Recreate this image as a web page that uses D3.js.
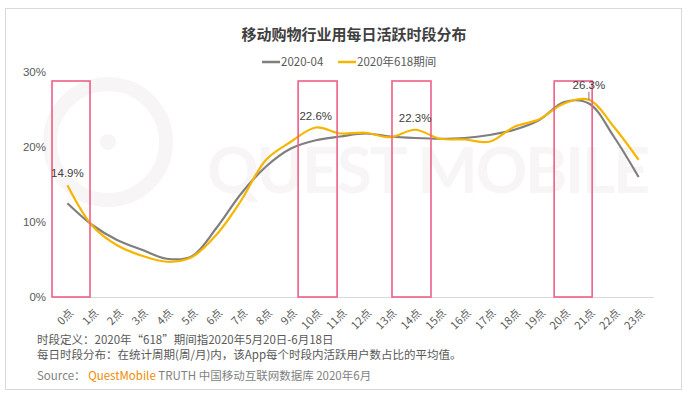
<!DOCTYPE html>
<html>
<head>
<meta charset="utf-8">
<script src="https://cdn.jsdelivr.net/npm/d3@7"></script>
<style>
  body { margin: 0; background: #fff; }
  svg text { font-family: "Noto Sans CJK SC", "Noto Sans", sans-serif; }
</style>
</head>
<body>
<div id="chart"></div>
<script>
// hours on the x axis
const hours = d3.range(24).map(h => h + "点");
const seriesNames = ["2020-04", "2020年618期间"];
// share of daily active users per hour (%)
const april = [12.5, 9.6, 7.6, 6.3, 5.1, 5.4, 9.2, 13.8, 17.4, 19.8, 20.9, 21.4,
  21.8, 21.4, 21.2, 21.1, 21.2, 21.6, 22.3, 23.6, 26.0, 25.8, 21.4, 16.0];
const promo618 = [14.9, 9.5, 6.9, 5.5, 4.7, 5.3, 8.3, 12.9, 18.3, 20.7, 22.6, 21.8,
  21.9, 21.3, 22.3, 21.1, 21.0, 20.7, 22.7, 23.7, 25.8, 26.3, 22.7, 18.3];
const yTicks = [0, 10, 20, 30];
// labelled points of the 618 series (hour index)
const labelled = [0, 10, 14, 21];
// highlight boxes, in hour units
const boxSpans = [[-0.62, 0.91], [9.29, 10.86], [13.07, 14.64], [19.6, 21.13]];

const W = 690, H = 399;
const svg = d3.select("#chart").append("svg")
  .attr("width", W).attr("height", H);

// frame
svg.append("rect")
  .attr("x", 5.5).attr("y", 8.5).attr("width", 676).attr("height", 381)
  .attr("fill", "#fff").attr("stroke", "#d9d9d9");

// faint watermark
const wm = svg.append("g").attr("fill", "none").attr("stroke", "#f7f5f6");
wm.append("circle").attr("cx", 108).attr("cy", 142).attr("r", 58).attr("stroke-width", 14);
wm.append("circle").attr("cx", 108).attr("cy", 142).attr("r", 8).attr("fill", "#f7f5f6").attr("stroke", "none");
svg.append("text")
  .attr("x", 207).attr("y", 193)
  .attr("textLength", 443)
  .style("font-family", "Lato, 'Open Sans', sans-serif")
  .style("font-size", "64px")
  .style("font-weight", "bold")
  .attr("fill", "#f8f5f7")
  .text("QUEST MOBILE");

const x = d3.scaleBand().domain(hours).range([55, 651]);
const xc = h => x(h) + x.bandwidth() / 2;
const xh = d3.scaleLinear().domain([0, 23]).range([xc(hours[0]), xc(hours[23])]);
const y = d3.scaleLinear().domain([0, 30]).range([297, 72]);

// title
svg.append("text")
  .attr("x", 354).attr("y", 40)
  .attr("text-anchor", "middle")
  .style("font-size", "15px").style("font-weight", "bold")
  .attr("fill", "#3f3f3f")
  .text("移动购物行业用每日活跃时段分布");

// legend
const colors = ["#7f7f7f", "#f7b500"];
const legendX = [262, 338];
seriesNames.forEach((name, i) => {
  const g = svg.append("g").attr("transform", `translate(${legendX[i]},62)`);
  g.append("line").attr("x1", 0).attr("x2", 18).attr("stroke", colors[i]).attr("stroke-width", 2.5);
  g.append("text").attr("x", 19).attr("dy", "0.35em")
    .style("font-size", "11.5px").attr("fill", "#595959").text(name);
});

// y axis
const yAxis = svg.append("g")
  .attr("transform", "translate(46,0)")
  .call(d3.axisLeft(y).tickValues(yTicks).tickSize(0).tickPadding(0).tickFormat(d => d + "%"));
yAxis.select(".domain").remove();
yAxis.selectAll("text").style("font-size", "11.5px").attr("fill", "#595959")
  .style("font-family", "'Liberation Sans', Arial, sans-serif");

// x axis
const xAxis = svg.append("g")
  .attr("transform", `translate(0,${y(0)})`)
  .call(d3.axisBottom(x).tickSize(0).tickPadding(0));
xAxis.select(".domain").attr("stroke", "#d9d9d9").attr("d", "M52,0.5H654");
xAxis.selectAll("text")
  .style("font-size", "11px").attr("fill", "#595959")
  .attr("text-anchor", "end")
  .attr("dy", "0.35em")
  .attr("transform", "translate(4,14) rotate(-45)");

// lines
const line = d3.line()
  .x((d, i) => xc(hours[i]))
  .y(d => y(d))
  .curve(d3.curveCatmullRom.alpha(0.5));
[april, promo618].forEach((s, i) => {
  svg.append("path").datum(s)
    .attr("fill", "none").attr("stroke", colors[i]).attr("stroke-width", 2.2)
    .attr("d", line);
});

// highlight boxes
svg.selectAll(".box").data(boxSpans).enter().append("rect")
  .attr("class", "box")
  .attr("x", d => xh(d[0])).attr("width", d => xh(d[1]) - xh(d[0]))
  .attr("y", y(30) + 9).attr("height", y(0) - y(30) - 9)
  .attr("fill", "none").attr("stroke", "#ee5f86").attr("stroke-width", 1.6);

// data labels
labelled.forEach(i => {
  const px = xc(hours[i]), py = y(promo618[i]);
  const lifted = i === 21;
  const ty = lifted ? py - 11 : py - 8;
  svg.append("text")
    .attr("x", px).attr("y", ty)
    .attr("text-anchor", "middle")
    .style("font-size", "11.5px")
    .style("font-family", "'Liberation Sans', Arial, sans-serif")
    .attr("fill", "#404040")
    .text(promo618[i].toFixed(1) + "%");
  if (lifted) {
    svg.append("line").attr("x1", px).attr("x2", px)
      .attr("y1", ty + 3).attr("y2", py)
      .attr("stroke", "#595959").attr("stroke-width", 0.8);
  }
});

// footnotes
const notes = [
  "时段定义：2020年“618”期间指2020年5月20日-6月18日",
  "每日时段分布：在统计周期(周/月)内，该App每个时段内活跃用户数占比的平均值。"
];
notes.forEach((t, i) => {
  svg.append("text").attr("x", 37).attr("y", 344 + i * 14.5)
    .style("font-size", "11.5px").attr("fill", "#595959").text(t);
});
const src = svg.append("text").attr("x", 37).attr("y", 380)
  .style("font-size", "11.5px").attr("fill", "#7f7f7f");
src.append("tspan").text("Source： ");
src.append("tspan").attr("fill", "#f08a00").text("QuestMobile");
src.append("tspan").text(" TRUTH 中国移动互联网数据库 2020年6月");
</script>
</body>
</html>
